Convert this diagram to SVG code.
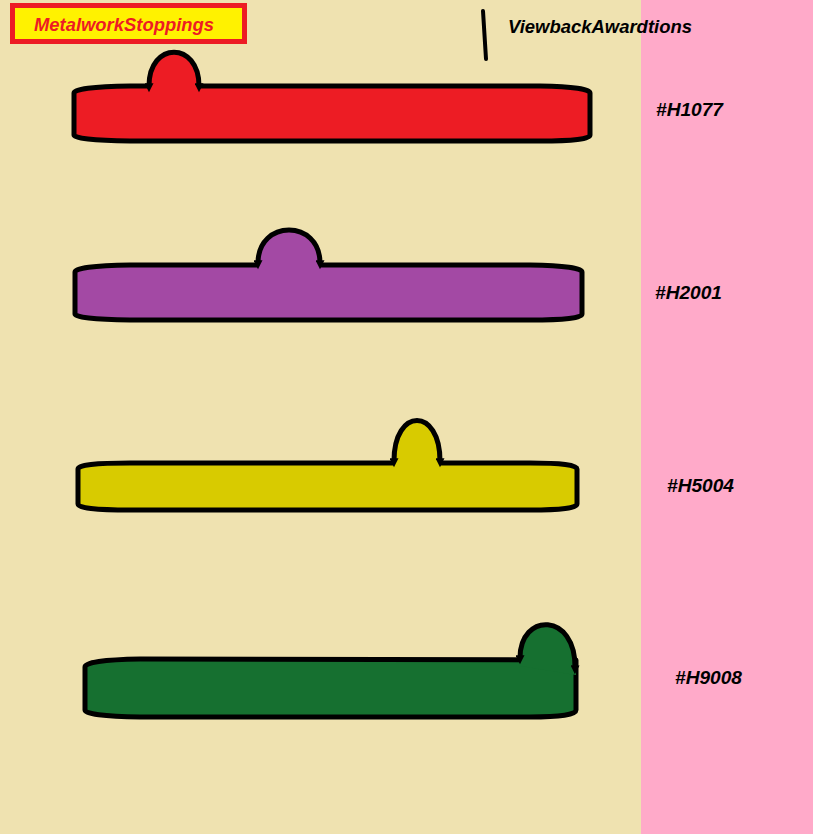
<svg xmlns="http://www.w3.org/2000/svg" width="813" height="834" viewBox="0 0 813 834">
<style>
.bar{stroke:#000;stroke-width:5;stroke-linejoin:round}
.arc{fill:none;stroke:#000;stroke-width:5;marker-start:url(#ah);marker-end:url(#ah)}
.lbl{font-family:"Liberation Sans",Arial,sans-serif;font-weight:bold;font-style:italic;font-size:18px;fill:#000}
</style>
<defs>
<marker id="ah" viewBox="0 0 10 10" refX="3" refY="5" markerWidth="2.1" markerHeight="1.8" orient="auto-start-reverse" markerUnits="strokeWidth">
<path d="M0,0 L10,5 L0,10 Z" fill="#000"/>
</marker>
</defs>
<rect x="0" y="0" width="813" height="834" fill="#efe2b0"/>
<rect x="641" y="0" width="172" height="834" fill="#ffaac9"/>

<g id="title">
<rect x="12.5" y="5.5" width="232" height="36" fill="#fff200" stroke="#ed1c24" stroke-width="5"/>
<text x="34" y="31" class="lbl" style="fill:#ed1c24" textLength="180" lengthAdjust="spacingAndGlyphs">MetalworkStoppings</text>
</g>

<g id="legend">
<line x1="483" y1="11" x2="486" y2="59" stroke="#000" stroke-width="4" stroke-linecap="round"/>
<text x="508" y="33" class="lbl" textLength="184" lengthAdjust="spacingAndGlyphs">ViewbackAwardtions</text>
</g>

<g id="node-h1077">
<path class="bar" fill="#ed1c24" d="M74,93 Q74,87 130,86 L540,86 Q590,87 590,93 L590,135 Q590,141 540,141 L130,141 Q74,140 74,135 Z"/>
<path fill="#ed1c24" d="M149,92 L149,88 C149,41 199,41 199,88 L199,92 Z"/>
<path class="arc" d="M149,86 C149,41 199,41 199,86"/>
<text x="656" y="116" class="lbl" textLength="67" lengthAdjust="spacingAndGlyphs">#H1077</text>
</g>

<g id="node-h2001">
<path class="bar" fill="#a349a4" d="M75,272 Q75,266 130,265 L530,265 Q582,266 582,272 L582,314 Q582,320 530,320 L130,320 Q75,319 75,314 Z"/>
<path fill="#a349a4" d="M258,270 L258,265 C258,219 320,219 320,265 L320,270 Z"/>
<path class="arc" d="M258,263 C258,219 320,219 320,263"/>
<text x="655" y="299" class="lbl" textLength="67" lengthAdjust="spacingAndGlyphs">#H2001</text>
</g>

<g id="node-h5004">
<path class="bar" fill="#d8cb00" d="M78,469 Q78,463 130,463 L530,463 Q577,463 577,469 L577,504 Q577,510 530,510 L130,510 Q78,510 78,504 Z"/>
<path fill="#d8cb00" d="M394,468 L394,463 C394,407 440,407 440,463 L440,468 Z"/>
<path class="arc" d="M394,461 C394,407 440,407 440,461"/>
<text x="667" y="492" class="lbl" textLength="67" lengthAdjust="spacingAndGlyphs">#H5004</text>
</g>

<g id="node-h9008">
<path class="bar" fill="#167030" d="M85,667 Q85,660 140,659 L576,660 L576,710 Q576,717 530,717 L140,717 Q85,716 85,710 Z"/>
<path fill="#167030" d="M520,666 L520,660 C520,612 576,612 576,668 L576,675 Z"/>
<path class="arc" d="M520,658 C520,612 576,612 575,668"/>
<text x="675" y="684" class="lbl" textLength="67" lengthAdjust="spacingAndGlyphs">#H9008</text>
</g>
</svg>
